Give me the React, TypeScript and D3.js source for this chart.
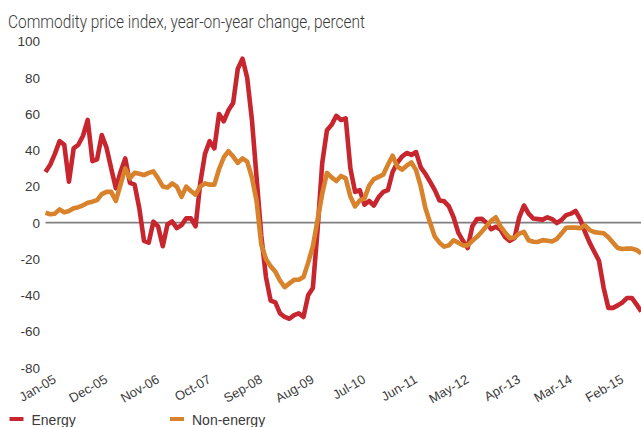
import React from "react";
import * as d3 from "d3";

// Monthly observations, Jan-05 .. Aug-15
const energy: number[] = [
  28, 32, 38, 45, 43, 22.6, 41, 43, 48, 56.7,
  34, 35, 48.4, 41.5, 30, 19, 28, 35.5, 22, 21,
  8, -10, -11, 0.6, -2, -13, -1, 0.7, -3, -1.3,
  2.4, 2.4, -2, 22, 38, 45, 41, 60, 56, 62,
  66, 85, 90.5, 80, 57, 25, -7, -30, -43, -44,
  -50, -52, -53, -51, -50, -52, -40, -36, -4, 33,
  51, 54, 59, 56.7, 57.6, 30, 17, 18, 10, 12,
  9.5, 14, 17, 18, 28, 33, 36.5, 38.5, 37.4, 39,
  30.5, 27, 22.5, 18, 12.3, 11.8, 9, 3, -5.5, -10,
  -14, -2, 2, 2.2, 0, -3.6, -2.2, -3.8, -8, -10,
  -8.5, 3, 9.5, 5, 2.3, 2, 1.7, 3, 2, -0.2,
  1.5, 4.2, 5, 6.5, 2, -5, -11, -16, -21, -36,
  -47, -47, -45.6, -44, -41.5, -41.5, -45, -49,
];

const nonEnergy: number[] = [
  5.5, 4.7, 5, 7.4, 5.7, 6.5, 8, 8.6, 9.6, 11,
  11.6, 12.5, 15.8, 17, 17, 12, 21, 30, 24.5, 27.6,
  27, 26.3, 27.5, 28.3, 24.5, 20, 19.5, 21.7, 19.9, 14.3,
  19.9, 17.5, 15.5, 20, 21.7, 21, 21, 29.5, 36, 39.5,
  36.5, 33, 35.5, 33.7, 25, 12, -12, -20, -24, -27,
  -32, -35.5, -33.5, -31.5, -31.5, -30, -22, -13, 1.5, 16,
  27.5, 25, 23, 25.8, 24.5, 14.5, 9, 12.3, 13.3, 20.5,
  24, 25.3, 26.5, 32, 37, 31, 29.3, 31.5, 33.3, 29,
  20, 8, 0, -7.7, -11, -13.2, -12.5, -9.7, -11, -12.5,
  -12.5, -10, -7.8, -5, -2, 1, 3, -2, -5.5, -8.5,
  -8.2, -6, -5, -9.7, -10.5, -10.6, -9.6, -10, -10.4, -9,
  -6, -2.8, -2.6, -2.7, -3, -1.4, -4, -5.2, -5.5, -5.8,
  -8, -11, -14, -14.5, -14.2, -14.3, -15, -17,
];

const tickLabels: string[] = [
  "Jan-05", "Dec-05", "Nov-06", "Oct-07", "Sep-08", "Aug-09",
  "Jul-10", "Jun-11", "May-12", "Apr-13", "Mar-14", "Feb-15",
];
const tickIndex: number[] = [0, 11, 22, 33, 44, 55, 66, 77, 88, 99, 110, 121];
const yTicks: number[] = [-80, -60, -40, -20, 0, 20, 40, 60, 80, 100];

const seriesNames: string[] = ["Energy", "Non-energy"];
const seriesColors: string[] = ["#c8262e", "#d8822c"];

const W = 641;
const H = 427;
const TEXT = "#3a3a3a";
const FONT = "'Liberation Sans', Arial, sans-serif";

export default function App() {
  const n = energy.length;
  const x = d3.scaleLinear().domain([0, n - 1]).range([45.5, 641.2]);
  const y = d3.scaleLinear().domain([-80, 100]).range([367.7, 41.5]);
  const line = d3
    .line<number>()
    .x((_, i) => x(i))
    .y((d) => y(d))
    .curve(d3.curveLinear);

  const series = [energy, nonEnergy];

  return (
    <svg
      width={W}
      height={H}
      viewBox={`0 0 ${W} ${H}`}
      style={{ position: "absolute", left: 0, top: 0, background: "#fff" }}
    >
      <rect x={0} y={0} width={W} height={H} fill="#fff" />
      <text
        x={8}
        y={27.5}
        fontFamily="Roboto, 'Liberation Sans', sans-serif"
        fontWeight={300}
        fontSize={19}
        fill={TEXT}
        textLength={357}
        lengthAdjust="spacingAndGlyphs"
      >
        Commodity price index, year-on-year change, percent
      </text>

      {yTicks.map((t) => (
        <text
          key={t}
          x={40}
          y={y(t)}
          dy="0.36em"
          textAnchor="end"
          fontFamily={FONT}
          fontSize={13.5}
          fill={TEXT}
        >
          {t}
        </text>
      ))}

      <line
        x1={x(0)}
        x2={W}
        y1={y(0)}
        y2={y(0)}
        stroke="#7f7f7f"
        strokeWidth={1.8}
      />

      {series.map((s, k) => (
        <path
          key={k}
          d={line(s) || ""}
          fill="none"
          stroke={seriesColors[k]}
          strokeWidth={4.6}
          strokeLinejoin="round"
        />
      ))}

      {tickIndex.map((ti, k) => (
        <text
          key={ti}
          transform={`translate(${x(ti) + 11.5},382) rotate(-30)`}
          textAnchor="end"
          fontFamily={FONT}
          fontSize={13}
          fill={TEXT}
        >
          {tickLabels[k]}
        </text>
      ))}

      {seriesNames.map((name, k) => {
        const lx = k === 0 ? 9.5 : 170;
        return (
          <g key={name}>
            <line
              x1={lx}
              x2={lx + 14}
              y1={419}
              y2={419}
              stroke={seriesColors[k]}
              strokeWidth={4}
            />
            <text
              x={lx + 22}
              y={424.5}
              fontFamily={FONT}
              fontSize={14}
              fill={TEXT}
            >
              {name}
            </text>
          </g>
        );
      })}
    </svg>
  );
}
